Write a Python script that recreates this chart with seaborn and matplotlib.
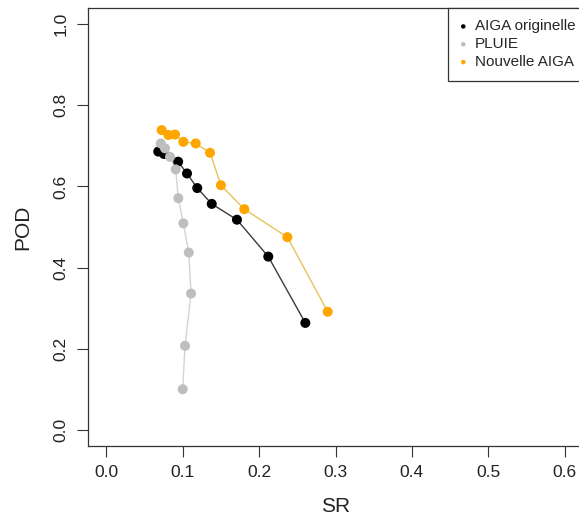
import matplotlib
matplotlib.use("Agg")
import matplotlib.pyplot as plt
import seaborn as sns
import pandas as pd

# ---- data ----
aiga_sr = [0.068, 0.0755, 0.094, 0.1056, 0.119, 0.138, 0.171, 0.212, 0.2605]
aiga_pod = [0.686, 0.680, 0.661, 0.632, 0.596, 0.557, 0.518, 0.427, 0.2635]

pluie_sr = [0.0712, 0.0768, 0.0834, 0.0908, 0.0942, 0.1008, 0.1079, 0.1109, 0.103, 0.100]
pluie_pod = [0.706, 0.694, 0.673, 0.642, 0.571, 0.509, 0.437, 0.336, 0.207, 0.100]

nouv_sr = [0.0725, 0.0812, 0.0899, 0.1008, 0.117, 0.1357, 0.150, 0.1806, 0.237, 0.2898]
nouv_pod = [0.739, 0.727, 0.728, 0.710, 0.706, 0.683, 0.603, 0.544, 0.475, 0.291]

series_names = ["AIGA originelle", "PLUIE", "Nouvelle AIGA"]
x_ticks = [0.0, 0.1, 0.2, 0.3, 0.4, 0.5, 0.6]
y_ticks = [0.0, 0.2, 0.4, 0.6, 0.8, 1.0]

sns.set_style("ticks")
plt.rcParams["font.family"] = ["Liberation Sans", "DejaVu Sans"]

fig = plt.figure(figsize=(5.79, 5.20), dpi=100)
W, H = 579, 520
left_px, right_px, top_px, bottom_px = 88, 583, 8, 446
ax = fig.add_axes([left_px / W, 1 - bottom_px / H,
                   (right_px - left_px) / W, (bottom_px - top_px) / H])

specs = [
    (aiga_sr, aiga_pod, "#000000", "#3a3a3a", series_names[0]),
    (pluie_sr, pluie_pod, "#bebebe", "#d4d4d4", series_names[1]),
    (nouv_sr, nouv_pod, "#ffa500", "#e8c35a", series_names[2]),
]

for xs, ys, mcol, lcol, name in specs:
    df = pd.DataFrame({"SR": xs, "POD": ys})
    sns.lineplot(data=df, x="SR", y="POD", sort=False, color=lcol,
                 linewidth=1.0, ax=ax, zorder=2)
for xs, ys, mcol, lcol, name in specs:
    df = pd.DataFrame({"SR": xs, "POD": ys})
    sns.scatterplot(data=df, x="SR", y="POD", color=mcol, s=52,
                    edgecolor="none", linewidth=0, ax=ax, zorder=3, label=name)

ax.set_xlim(-0.024, 0.624)
ax.set_ylim(-0.04, 1.04)
ax.set_xticks(x_ticks)
ax.set_yticks(y_ticks)
ax.set_xticklabels([f"{v:.1f}" for v in x_ticks])
ax.set_yticklabels([f"{v:.1f}" for v in y_ticks], rotation=90, va="center")
ax.tick_params(axis="both", direction="out", length=8, width=0.8,
               colors="#333333", labelcolor="#222222", labelsize=12.5)
ax.tick_params(axis="x", pad=6)
ax.tick_params(axis="y", pad=6)
for sp in ax.spines.values():
    sp.set_visible(True)
    sp.set_color("#333333")
    sp.set_linewidth(0.9)

ax.set_xlabel("SR", fontsize=15, color="#222222", labelpad=12)
ax.set_ylabel("POD", fontsize=15, color="#222222", labelpad=15)

# legend anchored with its left edge at ~448 px, top at the axes top
ax_w = right_px - left_px
leg = ax.legend(loc="upper left", bbox_to_anchor=((448 - left_px) / ax_w, 1.0),
                borderaxespad=0,
                frameon=True, fancybox=False, framealpha=1, edgecolor="#333333",
                fontsize=11, markerscale=0.45, handletextpad=0.5,
                borderpad=0.75, labelspacing=0.25, handlelength=0.5,
                handleheight=0.7)
leg.get_frame().set_linewidth(0.9)

fig.savefig("out.png", dpi=100)
